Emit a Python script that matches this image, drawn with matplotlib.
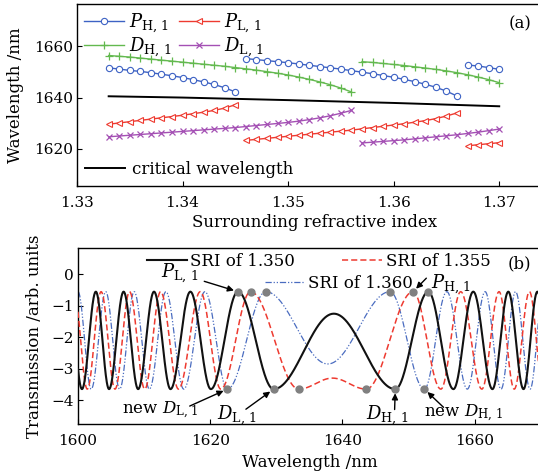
import numpy as np
import matplotlib.pyplot as plt
from matplotlib.legend import Legend

plt.rcParams['font.family'] = 'DejaVu Serif'
plt.rcParams['mathtext.fontset'] = 'dejavuserif'

# ---------------- panel (a) data ----------------
sri = [1.333, 1.334, 1.335, 1.336, 1.337, 1.338, 1.339, 1.340, 1.341, 1.342,
       1.343, 1.344, 1.345, 1.346, 1.347, 1.348, 1.349, 1.350, 1.351, 1.352,
       1.353, 1.354, 1.355, 1.356, 1.357, 1.358, 1.359, 1.360, 1.361, 1.362,
       1.363, 1.364, 1.365, 1.366, 1.367, 1.368, 1.369, 1.370]

# peaks are split in 3 branches, dips in 2 branches
peak_breaks = [0, 13, 34, 38]
dip_breaks = [0, 24, 38]

p_h1 = [1651.6, 1651.1, 1650.6, 1650.2, 1649.7, 1649.1, 1648.5, 1647.8, 1647.0, 1646.1,
        1645.1, 1643.8, 1642.2,
        1655.2, 1654.8, 1654.4, 1654.0, 1653.6, 1653.1, 1652.6, 1652.1, 1651.6, 1651.1,
        1650.5, 1649.9, 1649.3, 1648.6, 1647.9, 1647.1, 1646.2, 1645.2, 1644.0, 1642.5,
        1640.6,
        1652.7, 1652.3, 1651.7, 1651.0]
p_l1 = [1629.6, 1630.1, 1630.6, 1631.1, 1631.6, 1632.1, 1632.6, 1633.1, 1633.7, 1634.3,
        1635.0, 1635.9, 1637.2,
        1623.3, 1623.7, 1624.1, 1624.5, 1624.9, 1625.3, 1625.7, 1626.1, 1626.5, 1626.9,
        1627.3, 1627.8, 1628.3, 1628.8, 1629.3, 1629.8, 1630.4, 1631.0, 1631.8, 1632.8,
        1634.0,
        1621.2, 1621.6, 1622.0, 1622.4]
d_h1 = [1656.4, 1656.1, 1655.8, 1655.4, 1655.0, 1654.6, 1654.2, 1653.8, 1653.4, 1653.0,
        1652.6, 1652.2, 1651.7, 1651.2, 1650.7, 1650.1, 1649.5, 1648.8, 1648.0, 1647.1,
        1646.1, 1645.0, 1643.7, 1642.2,
        1654.0, 1653.7, 1653.3, 1652.9, 1652.5, 1652.0, 1651.5, 1651.0, 1650.4, 1649.7,
        1648.9, 1648.0, 1647.0, 1645.8]
d_l1 = [1624.7, 1625.0, 1625.3, 1625.6, 1625.9, 1626.2, 1626.5, 1626.8, 1627.1, 1627.4,
        1627.7, 1628.0, 1628.3, 1628.7, 1629.1, 1629.5, 1629.9, 1630.3, 1630.8, 1631.4,
        1632.1, 1632.9, 1633.9, 1635.0,
        1622.3, 1622.6, 1622.9, 1623.2, 1623.5, 1623.9, 1624.3, 1624.7, 1625.1, 1625.5,
        1626.0, 1626.5, 1627.1, 1627.7]

crit_sri = [1.333, 1.340, 1.350, 1.360, 1.370]
crit_wl = [1640.5, 1640.0, 1639.0, 1637.9, 1636.6]

# ---------------- panel (b) data: extrema of each spectrum ----------------
top_val, bot_val = -0.55, -3.65

wl_350 = [1598.6, 1600.6, 1602.7, 1604.7, 1606.9, 1609.1, 1611.5, 1614.0, 1617.0, 1620.1,
          1624.2, 1629.6, 1638.7, 1648.0, 1653.0, 1656.8, 1659.8, 1662.7, 1665.1, 1667.4,
          1669.5, 1671.7]
tr_350 = [top_val, bot_val] * 6 + [-1.25] + [bot_val, top_val] * 4 + [bot_val]

wl_355 = [1599.4, 1601.4, 1603.5, 1605.6, 1607.8, 1610.1, 1612.5, 1615.2, 1618.5, 1621.6,
          1626.1, 1633.4, 1638.5, 1643.6, 1650.7, 1654.9, 1657.9, 1661.1, 1663.7, 1666.0,
          1668.3, 1670.4]
tr_355 = [top_val, bot_val] * 5 + [top_val, bot_val, -3.3, bot_val] + [top_val, bot_val] * 4

wl_360 = [1598.0, 1600.0, 1602.0, 1604.2, 1606.3, 1608.5, 1610.8, 1613.3, 1616.0, 1619.2,
          1622.6, 1628.4, 1637.8, 1647.2, 1652.4, 1655.8, 1658.9, 1661.6, 1664.0, 1666.2,
          1668.4, 1670.4, 1672.5]
tr_360 = [bot_val, top_val] * 5 + [bot_val, top_val, -2.85, top_val] + [bot_val, top_val] * 4 + [bot_val]

peak_dots = [1624.2, 1626.1, 1628.4, 1647.2, 1650.7, 1653.0]
dip_dots = [1622.6, 1629.6, 1633.4, 1643.6, 1648.0, 1652.4]


def spectrum(xe, ye, x):
    # smooth half-cosine between consecutive extrema
    xe = np.asarray(xe)
    ye = np.asarray(ye)
    i = np.clip(np.searchsorted(xe, x) - 1, 0, len(xe) - 2)
    t = (x - xe[i]) / (xe[i + 1] - xe[i])
    return ye[i] + (ye[i + 1] - ye[i]) * (1 - np.cos(np.pi * t)) / 2


fig = plt.figure(figsize=(5.38, 4.74), dpi=100)
ax1 = fig.add_axes([77 / 538, 1 - 186 / 474, 475 / 538, 182 / 474])
ax2 = fig.add_axes([78 / 538, 1 - 424.3 / 474, 462.7 / 538, 176.3 / 474])

# ---------------- (a) ----------------
styles = [
    (p_h1, peak_breaks, '#3d62c4', dict(marker='o', mfc='white', ms=4.5, mew=0.8), r'$P_{\mathrm{H,\,1}}$'),
    (d_h1, dip_breaks, '#63b94f', dict(marker='+', ms=6, mew=0.9), r'$D_{\mathrm{H,\,1}}$'),
    (p_l1, peak_breaks, '#ee3a30', dict(marker='<', mfc='white', ms=5, mew=0.8), r'$P_{\mathrm{L,\,1}}$'),
    (d_l1, dip_breaks, '#a450b4', dict(marker='x', ms=4.5, mew=0.9), r'$D_{\mathrm{L,\,1}}$'),
]
handles = []
for vals, brk, col, mk, lab in styles:
    for k in range(len(brk) - 1):
        ln, = ax1.plot(sri[brk[k]:brk[k + 1]], vals[brk[k]:brk[k + 1]], color=col, lw=1.0, **mk)
        if k == 0:
            handles.append(ln)

crit, = ax1.plot(crit_sri, crit_wl, color='black', lw=1.4)

ax1.add_artist(Legend(ax1, handles, [s[4] for s in styles], ncol=2, loc='upper left',
                      frameon=False, fontsize=13, handlelength=2.2, columnspacing=0.4,
                      labelspacing=0.05, handletextpad=0.3, borderaxespad=0.2, borderpad=0.2))
ax1.add_artist(Legend(ax1, [crit], ['critical wavelength'], loc='lower left', frameon=False,
                      fontsize=12, handlelength=2.4, handletextpad=0.4, borderaxespad=0.3,
                      borderpad=0.2))

ax1.text(0.933, 0.89, '(a)', transform=ax1.transAxes, fontsize=12, ha='center', va='center')
ax1.set_xlim(1.33, 1.375)
ax1.set_ylim(1605.5, 1676.5)
ax1.set_xticks([1.33, 1.34, 1.35, 1.36, 1.37])
ax1.set_yticks([1620, 1640, 1660])
ax1.set_xlabel('Surrounding refractive index', fontsize=12, labelpad=3)
ax1.set_ylabel('Wavelength /nm', fontsize=12)
ax1.yaxis.set_label_coords(-0.112, 0.5)

# ---------------- (b) ----------------
wl = np.linspace(1600, 1670, 1400)
l1, = ax2.plot(wl, spectrum(wl_350, tr_350, wl), color='#111111', lw=1.5, zorder=4)
l2, = ax2.plot(wl, spectrum(wl_355, tr_355, wl), color='#ee3a30', lw=1.1,
               dashes=(4, 2), zorder=3)
l3, = ax2.plot(wl, spectrum(wl_360, tr_360, wl), color='#4a6cc0', lw=0.9,
               dashes=(5, 1.5, 1, 1.5, 1, 1.5), zorder=2)

ax2.plot(peak_dots, [top_val] * len(peak_dots), 'o', color='#808080', ms=5, zorder=6)
ax2.plot(dip_dots, [bot_val] * len(dip_dots), 'o', color='#808080', ms=5, zorder=6)

for line, lab, x, y in [(l1, 'SRI of 1.350', 0.149, 0.926),
                        (l2, 'SRI of 1.355', 0.571, 0.926),
                        (l3, 'SRI of 1.360', 0.404, 0.799)]:
    ax2.add_artist(Legend(ax2, [line], [lab], loc='center left', bbox_to_anchor=(x, y),
                          frameon=False, fontsize=12, handlelength=2.4, handletextpad=0.2,
                          borderaxespad=0, borderpad=0))

arrow = dict(arrowstyle='-|>', color='black', lw=1.0, mutation_scale=9, shrinkA=0, shrinkB=3)
ax2.annotate('', xy=(1624.2, top_val), xytext=(1619.1, -0.22), arrowprops=arrow)
ax2.annotate('', xy=(1650.7, top_val), xytext=(1652.7, -0.12), arrowprops=arrow)
ax2.annotate('', xy=(1622.6, bot_val), xytext=(1616.9, -4.19), arrowprops=arrow)
ax2.annotate('', xy=(1629.6, bot_val), xytext=(1625.4, -4.29), arrowprops=arrow)
ax2.annotate('', xy=(1648.0, bot_val), xytext=(1647.9, -4.30), arrowprops=arrow)
ax2.annotate('', xy=(1652.4, bot_val), xytext=(1655.3, -4.23), arrowprops=arrow)

ax2.text(1615.4, 0.05, r'$P_{\mathrm{L,\,1}}$', fontsize=13, ha='center', va='center')
ax2.text(1656.5, -0.3, r'$P_{\mathrm{H,\,1}}$', fontsize=13, ha='center', va='center')
ax2.text(1612.5, -4.33, r'new $D_{\mathrm{L,\,1}}$', fontsize=12, ha='center', va='center')
ax2.text(1624.1, -4.47, r'$D_{\mathrm{L,\,1}}$', fontsize=13, ha='center', va='center')
ax2.text(1646.7, -4.47, r'$D_{\mathrm{H,\,1}}$', fontsize=13, ha='center', va='center')
ax2.text(1658.3, -4.43, r'new $D_{\mathrm{H,\,1}}$', fontsize=12, ha='center', va='center')

ax2.text(0.953, 0.909, '(b)', transform=ax2.transAxes, fontsize=12, ha='center', va='center')
ax2.set_xlim(1600, 1670)
ax2.set_ylim(-4.77, 0.84)
ax2.set_xticks([1600, 1620, 1640, 1660])
ax2.set_yticks([0, -1, -2, -3, -4])
ax2.set_xlabel('Wavelength /nm', fontsize=12, labelpad=4)
ax2.set_ylabel('Transmission /arb. units', fontsize=12)
ax2.yaxis.set_label_coords(-0.076, 0.5)

for ax in (ax1, ax2):
    ax.tick_params(direction='in', length=3.5, width=0.8, labelsize=11, pad=7)
    ax.tick_params(axis='y', pad=3)
    for s in ax.spines.values():
        s.set_linewidth(1.0)

fig.savefig('out.png', dpi=100)
